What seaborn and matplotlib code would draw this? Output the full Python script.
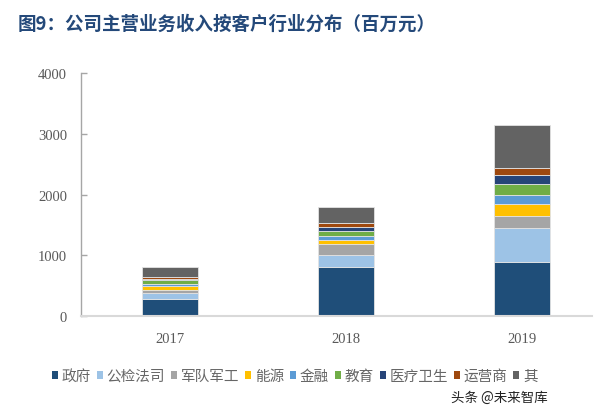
import numpy as np
import pandas as pd
import seaborn as sns
from matplotlib import pyplot as plt
from matplotlib.patches import Patch
from matplotlib.transforms import Bbox, TransformedBbox

years = ['2017', '2018', '2019']
categories = ['政府', '公检法司', '军队军工', '能源', '金融', '教育', '医疗卫生', '运营商', '其他']
colors = ['#1F4E79', '#9DC3E6', '#A5A5A5', '#FFC000', '#5B9BD5', '#70AD47', '#264478', '#9E480E', '#636363']
yticks = [0, 1000, 2000, 3000, 4000]

gov = [285, 806, 888]
justice = [93, 207, 564]
military = [60, 176, 203]
energy = [65, 61, 192]
finance = [33, 76, 148]
education = [56, 82, 176]
health = [21, 61, 158]
telecom = [28, 66, 105]
other = [165, 258, 712]

series = [gov, justice, military, energy, finance, education, health, telecom, other]

sns.set_style('white')
plt.rcParams['font.family'] = ['Noto Sans CJK SC', 'DejaVu Sans']

fig = plt.figure(figsize=(6.16, 4.14), dpi=100)
ax = fig.add_axes([81 / 616, 1 - 317.3 / 414, (592 - 81) / 616, (317.3 - 74) / 414])

bottom = np.zeros(len(years))
for vals, col in zip(series, colors):
    sns.barplot(x=years, y=vals, bottom=bottom, color=col, saturation=1,
                width=0.32, errorbar=None, edgecolor='#E3E3E3', linewidth=0.6, ax=ax)
    bottom = bottom + np.array(vals)

ax.set_xlim(-0.506, 2.398)
ax.set_ylim(0, 4000)
ax.set_yticks(yticks, labels=[str(v) for v in yticks], fontfamily='Liberation Serif',
              fontsize=10.5, color='#595959')
ax.set_xticks(range(len(years)), labels=years, fontfamily='Liberation Serif',
              fontsize=10.5, color='#595959')
ax.set_xlabel('')
ax.set_ylabel('')

for s in ['top', 'right']:
    ax.spines[s].set_visible(False)
ax.spines['left'].set_color('#A6A6A6')
ax.spines['left'].set_linewidth(1.0)
ax.spines['bottom'].set_color('#D9D9D9')
ax.spines['bottom'].set_linewidth(1.5)

ax.tick_params(axis='y', direction='in', length=4, width=1, color='#A6A6A6', pad=10, left=True)
ax.tick_params(axis='x', length=0, pad=11)

fig.text(18 / 616, 1 - 24 / 414, '图9：公司主营业务收入按客户行业分布（百万元）',
         fontsize=13.3, fontweight='bold', color='#24497A', va='center', ha='left')

handles = [Patch(facecolor=c, edgecolor='none') for c in colors]
leg = fig.legend(handles, categories, loc='center left', bbox_to_anchor=(52 / 616, 1 - 377 / 414),
                 ncol=9, frameon=False, fontsize=10.5, handlelength=0.42, handleheight=0.42,
                 handletextpad=0.25, columnspacing=0.4, borderpad=0, borderaxespad=0)
clip = TransformedBbox(Bbox([[0, 0], [538 / 616, 1]]), fig.transFigure)
for t in leg.get_texts():
    t.set_color('#666666')
    t.set_clip_box(clip)
    t.set_clip_on(True)

fig.text(451 / 616, 1 - 398 / 414, '头条 @未来智库', fontsize=9.7, color='#222222',
         va='center', ha='left')

fig.savefig('out.png', dpi=100)
